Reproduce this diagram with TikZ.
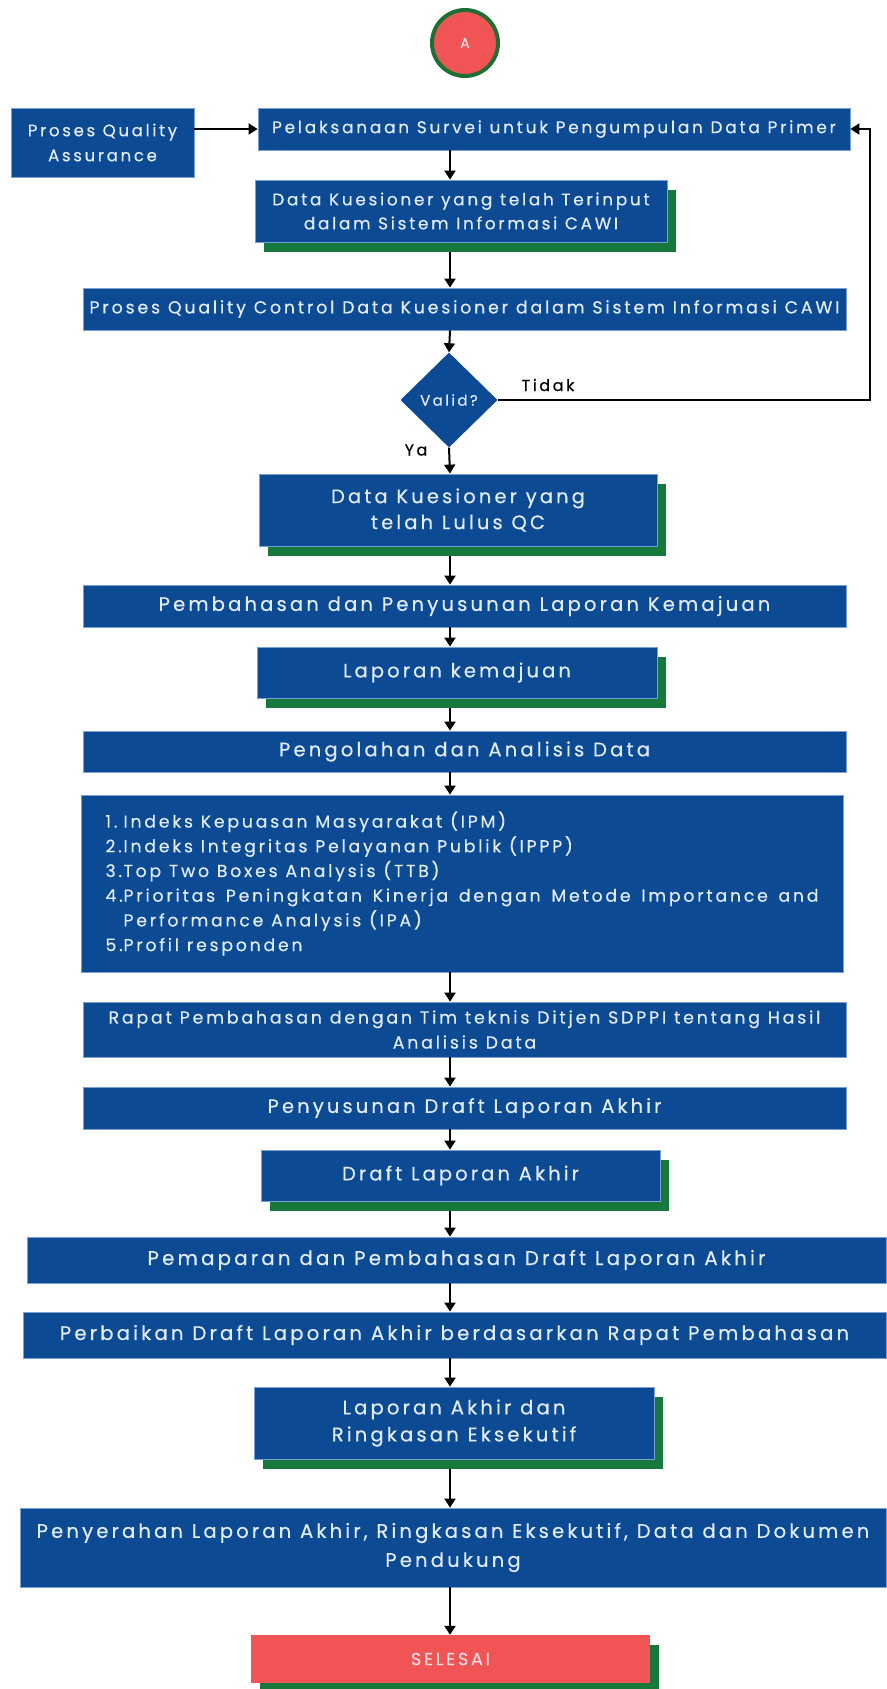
\documentclass[tikz,border=0pt]{standalone}
\usepackage{fontspec}
\setmainfont{Poppins}[LetterSpace=16, FakeBold=0.4]
\usetikzlibrary{arrows.meta,shapes.geometric,shadows}
\definecolor{bblue}{RGB}{12,74,148}
\definecolor{bedge}{RGB}{120,160,215}
\definecolor{btext}{RGB}{226,236,248}
\definecolor{sgreen}{RGB}{22,120,58}
\definecolor{cgreen}{RGB}{28,112,52}
\definecolor{rred}{RGB}{240,84,84}
\definecolor{ptext}{RGB}{255,220,225}
\tikzset{
  box/.style={rectangle, fill=bblue, draw=bedge, line width=0.8pt, text=btext, inner sep=0pt, align=center,
    execute at begin node={\spaceskip=0.45em\relax}},
  sbox/.style={box, drop shadow={shadow xshift=9pt, shadow yshift=-10pt, fill=sgreen, opacity=1}},
  arr/.style={draw=black, line width=2pt, -{Triangle[width=11pt,length=9pt]}},
  lbl/.style={text=black, inner sep=0pt}
}
\begin{document}
\begin{tikzpicture}[x=1pt,y=-1pt]
\useasboundingbox (0,0) rectangle (886,1689);
\fill[white] (0,0) rectangle (886,1689);
\coordinate (col) at (450,0);

\node[circle, fill=rred, draw=cgreen, line width=4pt, minimum size=66pt, inner sep=0pt, text=ptext, font=\fontsize{14}{16}\selectfont] (a) at (465,43) {A};

\node[box, minimum width=183pt, minimum height=69pt, text width=178pt, font=\fontsize{16.6}{25}\selectfont] (qa) at (102.5,142.5) {Proses Quality\\Assurance};
\node[box, minimum width=592pt, minimum height=42pt, text width=588pt, font=\fontsize{17}{24}\selectfont] (pel) at (554,129) {Pelaksanaan Survei untuk Pengumpulan Data Primer};
\node[sbox, minimum width=412pt, minimum height=62pt, text width=405pt, font=\fontsize{16.9}{24}\selectfont] (inp) at (461,211) {Data Kuesioner yang telah Terinput\\dalam Sistem Informasi CAWI};
\node[box, minimum width=763pt, minimum height=42pt, text width=758pt, font=\fontsize{17.4}{24}\selectfont] (qc) at (464.5,309) {Proses Quality Control Data Kuesioner dalam Sistem Informasi CAWI};
\node[diamond, fill=bblue, text=btext, inner sep=0pt, minimum width=97pt, minimum height=95pt, font=\fontsize{15}{18}\selectfont] (dia) at (449,400) {Valid?};
\node[lbl, font=\fontsize{16}{18}\selectfont] (tidak) at (548,385) {Tidak};
\node[lbl, font=\fontsize{16}{18}\selectfont] (ya) at (416,450) {Ya};
\node[sbox, minimum width=398pt, minimum height=72pt, text width=390pt, font=\fontsize{19.5}{26}\selectfont] (lulus) at (458,510) {Data Kuesioner yang\\telah Lulus QC};
\node[box, minimum width=763pt, minimum height=42pt, text width=758pt, font=\fontsize{19.6}{24}\selectfont] (pem) at (464.5,606) {Pembahasan dan Penyusunan Laporan Kemajuan};
\node[sbox, minimum width=400pt, minimum height=51pt, text width=395pt, font=\fontsize{19.5}{24}\selectfont] (lk) at (457,672.5) {Laporan kemajuan};
\node[box, minimum width=763pt, minimum height=41pt, text width=758pt, font=\fontsize{19.6}{24}\selectfont] (peng) at (464.5,751.5) {Pengolahan dan Analisis Data};
\node[box, minimum width=762pt, minimum height=177pt, text width=713pt, align=justify, font=\fontsize{17.3}{24.7}\selectfont] (list) at (462,883.5) {%
\spaceskip=0.45em plus 0.4em minus 0.12em\relax
\hangindent=18pt\hangafter=1\makebox[18pt][l]{1.}Indeks Kepuasan Masyarakat (IPM)\par
\hangindent=18pt\hangafter=1\makebox[18pt][l]{2.}Indeks Integritas Pelayanan Publik (IPPP)\par
\hangindent=18pt\hangafter=1\makebox[18pt][l]{3.}Top Two Boxes Analysis (TTB)\par
\hangindent=18pt\hangafter=1\makebox[18pt][l]{4.}Prioritas Peningkatan Kinerja dengan Metode Importance and\linebreak Performance Analysis (IPA)\par
\hangindent=18pt\hangafter=1\makebox[18pt][l]{5.}Profil responden\par};
\node[box, minimum width=763pt, minimum height=55pt, text width=755pt, font=\fontsize{17.4}{25}\selectfont] (rapat) at (464.5,1029.5) {Rapat Pembahasan dengan Tim teknis Ditjen SDPPI tentang Hasil\\Analisis Data};
\node[box, minimum width=763pt, minimum height=42pt, text width=758pt, font=\fontsize{19.5}{24}\selectfont] (pdla) at (464.5,1108) {Penyusunan Draft Laporan Akhir};
\node[sbox, minimum width=399pt, minimum height=51pt, text width=394pt, font=\fontsize{19.5}{24}\selectfont] (dla) at (460.5,1175.5) {Draft Laporan Akhir};
\node[box, minimum width=859pt, minimum height=46pt, text width=854pt, font=\fontsize{19.8}{24}\selectfont] (papar) at (456.5,1260) {Pemaparan dan Pembahasan Draft Laporan Akhir};
\node[box, minimum width=863pt, minimum height=46pt, text width=858pt, font=\fontsize{19.7}{24}\selectfont] (perb) at (454.5,1335) {Perbaikan Draft Laporan Akhir berdasarkan Rapat Pembahasan};
\node[sbox, minimum width=400pt, minimum height=72pt, text width=390pt, font=\fontsize{19.6}{27}\selectfont] (la) at (454,1423) {Laporan Akhir dan\\Ringkasan Eksekutif};
\node[box, minimum width=866pt, minimum height=79pt, text width=862pt, font=\fontsize{19.6}{29}\selectfont] (serah) at (453,1547.5) {Penyerahan Laporan Akhir, Ringkasan Eksekutif, Data dan Dokumen\\Pendukung};
\node[rectangle, fill=rred, text=ptext, inner sep=0pt, minimum width=399pt, minimum height=48pt, drop shadow={shadow xshift=9pt, shadow yshift=-10pt, fill=sgreen, opacity=1}, font=\fontsize{17.5}{24}\selectfont] (sel) at (450.5,1659) {SELESAI};

\draw[arr] (qa.east |- pel.west) -- (pel.west);
\draw[arr] (pel.south -| col) -- (inp.north -| col);
\draw[arr] ([yshift=-10pt]inp.south -| col) -- (qc.north -| col);
\draw[arr] (qc.south -| col) -- (dia.north);
\draw[arr] (dia.east) -| ([xshift=20pt]pel.east) -- (pel.east);
\draw[arr] (dia.south) -- (lulus.north -| col);
\draw[arr] ([yshift=-10pt]lulus.south -| col) -- (pem.north -| col);
\draw[arr] (pem.south -| col) -- (lk.north -| col);
\draw[arr] ([yshift=-10pt]lk.south -| col) -- (peng.north -| col);
\draw[arr] (peng.south -| col) -- (list.north -| col);
\draw[arr] (list.south -| col) -- (rapat.north -| col);
\draw[arr] (rapat.south -| col) -- (pdla.north -| col);
\draw[arr] (pdla.south -| col) -- (dla.north -| col);
\draw[arr] ([yshift=-10pt]dla.south -| col) -- (papar.north -| col);
\draw[arr] (papar.south -| col) -- (perb.north -| col);
\draw[arr] (perb.south -| col) -- (la.north -| col);
\draw[arr] ([yshift=-10pt]la.south -| col) -- (serah.north -| col);
\draw[arr] (serah.south -| col) -- (sel.north -| col);
\end{tikzpicture}
\end{document}
